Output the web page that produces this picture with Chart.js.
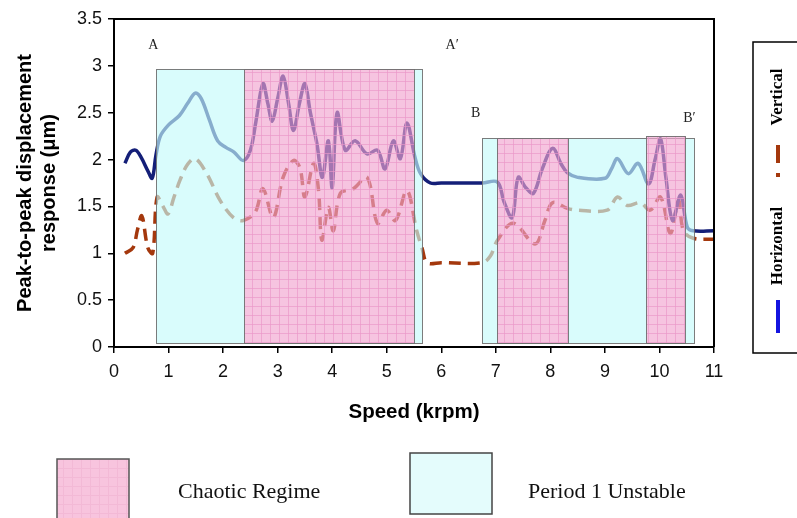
<!DOCTYPE html>
<html>
<head>
<meta charset="utf-8">
<script src="https://cdn.jsdelivr.net/npm/chart.js@4/dist/chart.umd.min.js"></script>
<style>
  html, body { margin: 0; padding: 0; background: #fff; }
  #wrap { position: relative; width: 797px; height: 518px; }
</style>
</head>
<body>
<div id="wrap"><canvas id="chart"></canvas></div>
<script>
// ---- data ----
const speedH = [0.2, 0.3, 0.4, 0.5, 0.62, 0.7, 0.77, 0.85, 1.0, 1.2, 1.35, 1.49, 1.6, 1.75, 1.9, 2.05, 2.2, 2.37,
  2.5, 2.6, 2.73, 2.82, 2.9, 3.0, 3.1, 3.2, 3.29, 3.4, 3.5, 3.6, 3.72, 3.82, 3.93, 4.0, 4.09, 4.24, 4.42, 4.64,
  4.83, 4.97, 5.12, 5.25, 5.37, 5.52, 5.62, 5.8, 6.0, 6.75, 7.03, 7.15, 7.3, 7.41, 7.55, 7.69, 7.85, 8.04, 8.2,
  8.31, 8.5, 9.0, 9.12, 9.23, 9.43, 9.61, 9.8, 9.92, 10.02, 10.12, 10.24, 10.39, 10.51, 10.62, 11.0];
const horizontal = [1.96, 2.08, 2.1, 2.02, 1.88, 1.8, 2.05, 2.25, 2.37, 2.47, 2.6, 2.71, 2.65, 2.42, 2.2, 2.13, 2.08, 1.99,
  2.1, 2.4, 2.81, 2.6, 2.41, 2.65, 2.89, 2.6, 2.31, 2.6, 2.81, 2.5, 2.17, 1.81, 2.2, 1.7, 2.5, 2.1, 2.2, 2.06,
  2.1, 1.9, 2.2, 2.01, 2.39, 2.02, 1.85, 1.75, 1.75, 1.75, 1.76, 1.55, 1.38, 1.81, 1.7, 1.64, 1.9, 2.12, 1.95,
  1.86, 1.81, 1.8, 1.9, 2.01, 1.85, 1.96, 1.74, 2.0, 2.22, 1.8, 1.35, 1.62, 1.28, 1.24, 1.24];

const speedV = [0.2, 0.35, 0.43, 0.51, 0.62, 0.71, 0.79, 0.9, 0.99, 1.1, 1.21, 1.35, 1.49, 1.7, 1.95, 2.19, 2.37,
  2.59, 2.73, 2.92, 3.1, 3.29, 3.41, 3.5, 3.66, 3.75, 3.81, 3.93, 4.02, 4.15, 4.39, 4.64, 4.83, 5.0, 5.16, 5.37,
  5.55, 5.65, 5.74, 6.0, 6.75, 6.9, 7.03, 7.32, 7.72, 7.9, 8.04, 8.31, 8.5, 9.04, 9.23, 9.41, 9.65, 9.83, 10.02,
  10.2, 10.35, 10.44, 10.62, 11.0];
const vertical = [1.0, 1.06, 1.25, 1.4, 1.06, 1.0, 1.6, 1.5, 1.42, 1.6, 1.78, 1.95, 2.01, 1.85, 1.56, 1.38, 1.35,
  1.44, 1.69, 1.38, 1.81, 1.99, 1.91, 1.6, 1.96, 1.67, 1.14, 1.49, 1.24, 1.64, 1.69, 1.81, 1.32, 1.46, 1.35, 1.67,
  1.24, 1.05, 0.9, 0.9, 0.9, 0.97, 1.14, 1.32, 1.1, 1.35, 1.54, 1.48, 1.46, 1.46, 1.6, 1.51, 1.54, 1.46, 1.6,
  1.21, 1.56, 1.24, 1.16, 1.15];

// regions: [start krpm, end krpm, top]
const unstableRegions = [[0.77, 5.65, 2.97], [6.75, 10.63, 2.23]];
const chaoticRegions = [[2.38, 5.5, 2.97], [7.02, 8.33, 2.23], [9.76, 10.47, 2.25]];
const regionBase = 0.04;

// point labels: [text, krpm, value]
const pointLabels = [['A', 0.72, 3.22], ['A\u2032', 6.2, 3.22], ['B', 6.63, 2.49], ['B\u2032', 10.55, 2.44]];

const xTicks = [0, 1, 2, 3, 4, 5, 6, 7, 8, 9, 10, 11];
const yTicks = [0, 0.5, 1, 1.5, 2, 2.5, 3, 3.5];

/* ===============================
   HELPERS
=============================== */
const SANS = "'Liberation Sans', Arial, sans-serif";
const SERIF = "'Liberation Serif', 'Times New Roman', serif";
const BLUE = '#141f78';
const RED = '#a4380d';

const toPoints = (xs, ys) => xs.map((s, i) => ({ x: s, y: ys[i] }));

function gridPattern(base, line, size) {
  const c = document.createElement('canvas');
  c.width = size; c.height = size;
  const g = c.getContext('2d');
  g.fillStyle = base;
  g.fillRect(0, 0, size, size);
  g.fillStyle = line;
  g.fillRect(0, 0, size, 1);
  g.fillRect(0, 0, 1, size);
  return g.createPattern(c, 'repeat');
}

const ctx = document.getElementById('chart').getContext('2d');
const pinkFill = gridPattern('rgba(241,165,208,0.65)', 'rgba(236,152,200,0.66)', 9);
const cyanFill = 'rgba(197,250,250,0.65)';

/* ===============================
   OVERLAY: regions, frame, labels, legends
=============================== */
const overlay = {
  id: 'overlay',
  afterDatasetsDraw(chart) {
    const { ctx, chartArea: a, scales: { x, y } } = chart;
    ctx.save();

    const rectOf = ([s0, s1, top]) => {
      const l = Math.round(x.getPixelForValue(s0)), r = Math.round(x.getPixelForValue(s1));
      const t = Math.round(y.getPixelForValue(top)), b = Math.round(y.getPixelForValue(regionBase));
      return [l, t, r - l, b - t];
    };
    const outline = rc => {
      ctx.strokeStyle = 'rgba(110,110,110,0.9)';
      ctx.lineWidth = 1;
      ctx.strokeRect(rc[0] + 0.5, rc[1] + 0.5, rc[2], rc[3]);
    };

    // cyan regions, leaving the chaotic parts out so the pink stays clean
    ctx.save();
    ctx.beginPath();
    ctx.rect(0, 0, chart.width, chart.height);
    chaoticRegions.forEach(r => ctx.rect(...rectOf(r)));
    ctx.clip('evenodd');
    ctx.fillStyle = cyanFill;
    unstableRegions.forEach(r => ctx.fillRect(...rectOf(r)));
    ctx.restore();
    unstableRegions.forEach(r => outline(rectOf(r)));

    chaoticRegions.forEach(r => {
      const rc = rectOf(r);
      ctx.fillStyle = pinkFill;
      ctx.fillRect(...rc);
      outline(rc);
    });

    // top and right frame
    ctx.strokeStyle = '#000';
    ctx.lineWidth = 2;
    ctx.beginPath();
    ctx.moveTo(a.left, a.top);
    ctx.lineTo(a.right, a.top);
    ctx.lineTo(a.right, a.bottom);
    ctx.stroke();

    ctx.fillStyle = '#222';
    ctx.font = `14px ${SERIF}`;
    ctx.textAlign = 'center';
    ctx.textBaseline = 'middle';
    pointLabels.forEach(([t, s, v]) => ctx.fillText(t, x.getPixelForValue(s), y.getPixelForValue(v)));

    ctx.restore();
  },
  afterDraw(chart) {
    const { ctx } = chart;
    ctx.save();

    // right legend box
    ctx.strokeStyle = '#000';
    ctx.lineWidth = 1.5;
    ctx.strokeRect(753, 42, 120, 311);

    ctx.lineWidth = 4;
    ctx.strokeStyle = '#1414e0';
    ctx.beginPath(); ctx.moveTo(778, 300); ctx.lineTo(778, 333); ctx.stroke();
    ctx.strokeStyle = RED;
    ctx.beginPath(); ctx.moveTo(778, 145); ctx.lineTo(778, 163); ctx.stroke();
    ctx.fillStyle = RED;
    ctx.fillRect(776, 173, 4, 4);

    ctx.fillStyle = '#000';
    ctx.font = `bold 17px ${SERIF}`;
    ctx.textAlign = 'center';
    ctx.textBaseline = 'middle';
    [['Horizontal', 246], ['Vertical', 97]].forEach(([t, cy]) => {
      ctx.save();
      ctx.translate(778, cy);
      ctx.rotate(-Math.PI / 2);
      ctx.fillText(t, 0, 0);
      ctx.restore();
    });

    // bottom legend
    ctx.fillStyle = gridPattern('#f8c4de', '#f3b9d6', 9);
    ctx.fillRect(57, 459, 72, 70);
    ctx.strokeStyle = '#555';
    ctx.lineWidth = 1.5;
    ctx.strokeRect(57, 459, 72, 70);

    ctx.fillStyle = '#e4fcfc';
    ctx.fillRect(410, 453, 82, 61);
    ctx.strokeStyle = '#444';
    ctx.strokeRect(410, 453, 82, 61);

    ctx.fillStyle = '#111';
    ctx.font = `22px ${SERIF}`;
    ctx.textAlign = 'left';
    ctx.fillText('Chaotic Regime', 178, 492);
    ctx.fillText('Period 1 Unstable', 528, 492);

    ctx.restore();
  }
};

/* ===============================
   CHART
=============================== */
new Chart(ctx, {
  type: 'line',
  data: {
    datasets: [
      {
        label: 'Horizontal',
        data: toPoints(speedH, horizontal),
        borderColor: BLUE,
        borderWidth: 3.5,
        pointRadius: 0,
        tension: 0.35,
        fill: false
      },
      {
        label: 'Vertical',
        data: toPoints(speedV, vertical),
        borderColor: RED,
        borderWidth: 3.5,
        borderDash: [12, 7],
        pointRadius: 0,
        tension: 0.35,
        fill: false
      }
    ]
  },
  options: {
    responsive: true,
    maintainAspectRatio: false,
    animation: false,
    layout: { padding: { left: 0, top: 19, right: 83, bottom: 0 } },
    plugins: { legend: { display: false }, tooltip: { enabled: false } },
    scales: {
      x: {
        type: 'linear',
        min: 0, max: 11,
        afterBuildTicks: s => { s.ticks = xTicks.map(v => ({ value: v })); },
        afterFit: s => { s.height = 171; },
        grid: { drawOnChartArea: false, drawTicks: true, tickLength: 6, color: '#000', lineWidth: 1.5 },
        border: { color: '#000', width: 2 },
        ticks: { color: '#111', font: { family: SANS, size: 18 }, padding: 8, maxRotation: 0 },
        title: {
          display: true, text: 'Speed (krpm)', color: '#000',
          font: { family: SANS, size: 20.5, weight: 'bold' },
          padding: { top: 0, bottom: 93 }
        }
      },
      y: {
        min: 0, max: 3.5,
        afterBuildTicks: s => { s.ticks = yTicks.map(v => ({ value: v })); },
        afterFit: s => { s.width = 114; },
        grid: { drawOnChartArea: false, drawTicks: true, tickLength: 6, color: '#000', lineWidth: 1.5 },
        border: { color: '#000', width: 2 },
        ticks: { color: '#111', font: { family: SANS, size: 18 }, padding: 6, callback: v => String(+v.toFixed(1)) },
        title: {
          display: true, text: ['Peak-to-peak displacement', 'response (\u03bcm)'], color: '#000',
          font: { family: SANS, size: 20, weight: 'bold' },
          padding: { top: 13, bottom: 0 }
        }
      }
    }
  },
  plugins: [overlay]
});
</script>
</body>
</html>
